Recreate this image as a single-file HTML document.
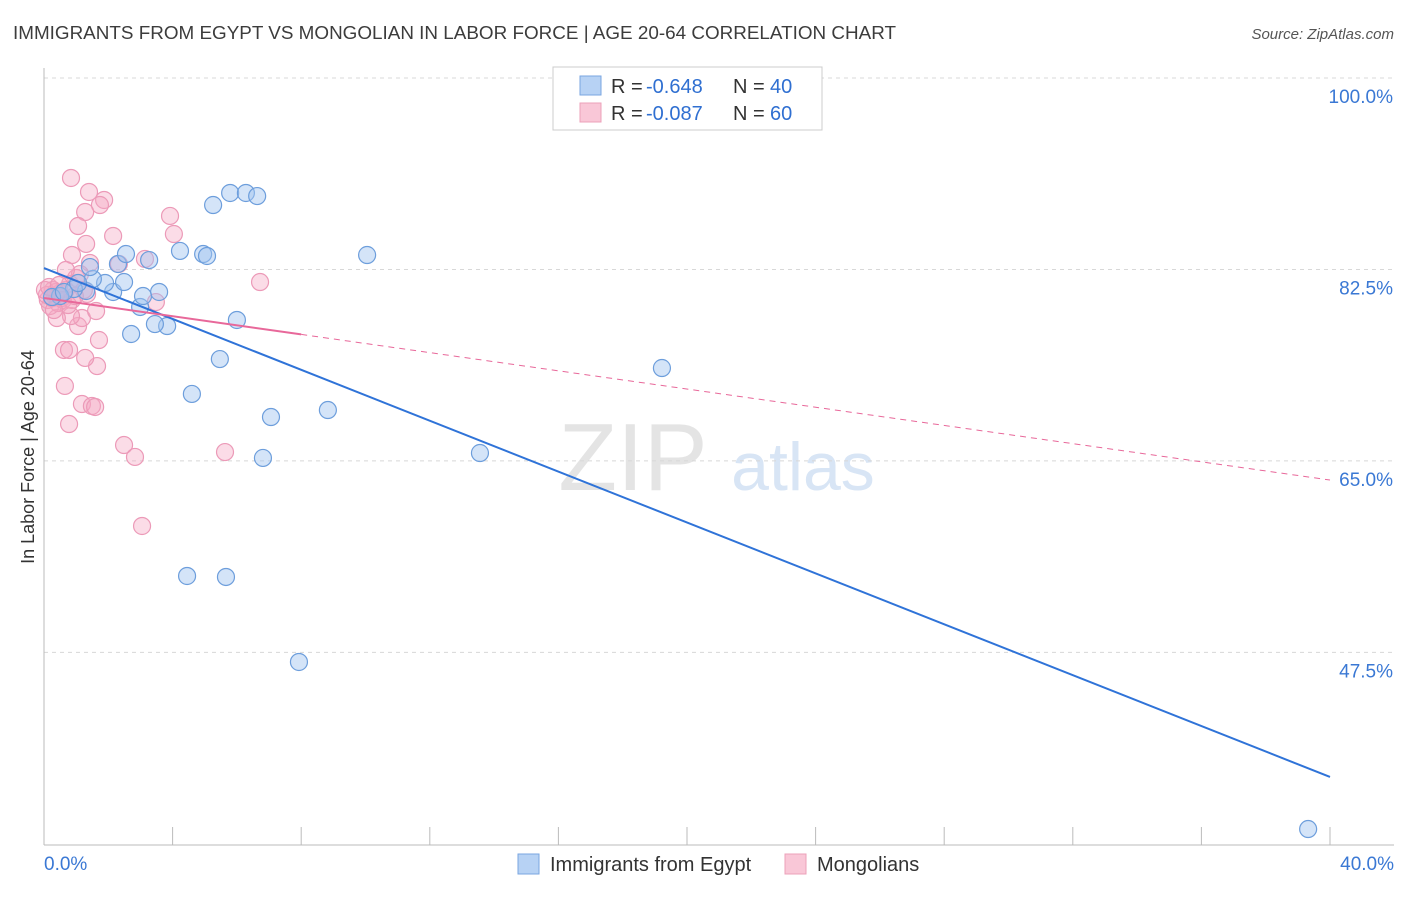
<!DOCTYPE html>
<html><head><meta charset="utf-8"><style>
body{margin:0;background:#fff;font-family:"Liberation Sans",sans-serif}
svg text{font-family:"Liberation Sans",sans-serif}
</style></head><body>
<svg id="chart" width="1406" height="892" viewBox="0 0 1406 892" xmlns="http://www.w3.org/2000/svg">
<text x="13" y="39" font-size="18" fill="#3c3c3c" textLength="883" lengthAdjust="spacingAndGlyphs">IMMIGRANTS FROM EGYPT VS MONGOLIAN IN LABOR FORCE | AGE 20-64 CORRELATION CHART</text>
<text x="1394" y="39" font-size="15" fill="#555" font-style="italic" text-anchor="end">Source: ZipAtlas.com</text>
<g>
<text x="633" y="490" font-size="96" fill="#e4e4e4" font-family="Liberation Serif" text-anchor="middle">ZIP</text>
<text x="803" y="490" font-size="68" fill="#d8e5f5" text-anchor="middle">atlas</text>
</g>
<g id="grid"></g>
<g id="axes"></g>
<g id="pts"></g>
<g id="trends"></g>
<text transform="translate(34,457) rotate(-90)" font-size="18" fill="#333" text-anchor="middle">In Labor Force | Age 20-64</text>
<g>
<rect x="553" y="67" width="269" height="63" fill="#fff" stroke="#ccc"/>
<rect x="580" y="76" width="21" height="19" fill="#b7d2f4" stroke="#7aa6e0"/>
<rect x="580" y="103" width="21" height="19" fill="#f9c7d7" stroke="#eca0ba"/>
<text x="611" y="93" font-size="20" fill="#333">R =</text>
<text x="646" y="93" font-size="20" fill="#2f6fd1">-0.648</text>
<text x="733" y="93" font-size="20" fill="#333">N =</text>
<text x="770" y="93" font-size="20" fill="#2f6fd1">40</text>
<text x="611" y="120" font-size="20" fill="#333">R =</text>
<text x="646" y="120" font-size="20" fill="#2f6fd1">-0.087</text>
<text x="733" y="120" font-size="20" fill="#333">N =</text>
<text x="770" y="120" font-size="20" fill="#2f6fd1">60</text>
</g>
<g>
<rect x="518" y="854" width="21" height="20" fill="#b7d2f4" stroke="#7aa6e0"/>
<text x="550" y="871" font-size="20" fill="#333">Immigrants from Egypt</text>
<rect x="785" y="854" width="21" height="20" fill="#f9c7d7" stroke="#eca0ba"/>
<text x="817" y="871" font-size="20" fill="#333">Mongolians</text>
</g>
</svg>
<script>
const yTicks=[100,82.5,65,47.5];
const yTickLabels=["100.0%","82.5%","65.0%","47.5%"];
const xTicks=[0,4,8,12,16,20,24,28,32,36,40];
const xEndLabels=["0.0%","40.0%"];
const egyptX=[39.32,7.93,4.45,5.66,6.81,13.56,19.22,8.83,7.06,4.60,5.47,2.71,3.83,3.45,6.00,2.99,3.58,3.08,2.15,1.31,1.90,2.49,1.52,2.30,2.55,3.27,4.23,4.95,5.07,5.26,5.79,6.28,6.63,10.05,0.93,0.50,0.25,0.62,1.43,1.06];
const egyptY=[31.35,46.62,54.48,54.39,65.27,65.72,73.49,69.65,69.01,71.12,74.31,76.60,77.33,77.51,77.88,79.07,80.44,80.07,80.44,80.53,81.26,81.35,81.63,83.00,83.91,83.36,84.19,83.91,83.73,88.39,89.49,89.49,89.21,83.82,80.71,80.07,79.98,80.44,82.72,81.26];
const mongX=[0.84,1.40,1.87,1.74,1.28,3.92,1.06,4.04,2.15,1.31,0.87,3.14,2.33,1.43,6.72,0.62,0.78,0.65,1.18,1.49,1.59,0.78,2.49,2.83,5.63,3.05,1.71,1.65,1.28,1.06,1.18,0.84,1.62,3.48,0.40,0.28,0.12,0.19,0.34,0.50,0.09,0.25,0.44,0.56,0.68,0.81,1.00,1.12,0.37,0.03,0.16,0.47,0.59,0.87,0.75,1.34,1.24,0.96,0.31,0.68];
const mongY=[90.86,89.58,88.85,88.39,87.75,87.39,86.47,85.74,85.56,84.83,83.82,83.46,83.00,83.09,81.35,75.14,75.14,71.85,70.20,70.02,69.93,68.37,66.45,65.36,65.81,59.05,76.05,73.67,74.41,77.33,78.06,78.24,78.70,79.52,78.06,80.62,79.71,79.16,80.07,80.35,80.16,79.89,79.43,79.89,80.62,81.17,81.72,82.08,80.44,80.62,80.90,81.08,79.71,79.71,79.25,80.26,80.62,80.07,78.79,82.45];
const egyptTrend=[82.63,36.11];
const mongTrend=[79.89,63.25];
const mongSolidEnd=8;

const NS="http://www.w3.org/2000/svg";
const sx=v=>44+v*(1286/40);
const sy=v=>78+(100-v)*10.94;
function mk(tag,attrs,parent){const e=document.createElementNS(NS,tag);for(const k in attrs)e.setAttribute(k,attrs[k]);parent.appendChild(e);return e;}
const grid=document.getElementById('grid'),axes=document.getElementById('axes'),pts=document.getElementById('pts'),tr=document.getElementById('trends');
yTicks.forEach((t,i)=>{
  const l=mk('line',{x1:44,x2:1394,y1:sy(t),y2:sy(t),stroke:'#d8d8d8','stroke-dasharray':'4,4'},grid);
  
  
  const tx=mk('text',{x:1393,y:sy(t)+25,'font-size':19,fill:'#3a78d4','text-anchor':'end'},axes);
  tx.textContent=yTickLabels[i];
  
  
});
const ya=mk('line',{x1:44,x2:44,y1:68,y2:845,stroke:'#bbb'},axes);


const xa=mk('line',{x1:44,x2:1394,y1:845,y2:845,stroke:'#bbb'},axes);


xTicks.forEach(t=>{
  const l=mk('line',{x1:sx(t),x2:sx(t),y1:827,y2:845,stroke:'#bbb'},axes);
  
  
});
[[0,'start',44],[40,'end',1394]].forEach((d,i)=>{
  const tx=mk('text',{x:d[2],y:870,'font-size':19,fill:'#3a78d4','text-anchor':d[1]},axes);
  tx.textContent=xEndLabels[i];
  
  
});
mongX.forEach((x,i)=>{
  const c=mk('circle',{cx:sx(x),cy:sy(mongY[i]),r:8.5,fill:'rgba(244,168,196,0.4)',stroke:'#ec9ab8','stroke-width':1.2},pts);
  
  
});
egyptX.forEach((x,i)=>{
  const c=mk('circle',{cx:sx(x),cy:sy(egyptY[i]),r:8.5,fill:'rgba(160,196,240,0.45)',stroke:'#6d9edc','stroke-width':1.2},pts);
  
  
});
const bl=mk('line',{x1:sx(0),y1:sy(egyptTrend[0]),x2:sx(40),y2:sy(egyptTrend[1]),stroke:'#2f73d8','stroke-width':2},tr);


const mAt=x=>mongTrend[0]+(mongTrend[1]-mongTrend[0])*x/40;
const pl=mk('line',{x1:sx(0),y1:sy(mAt(0)),x2:sx(mongSolidEnd),y2:sy(mAt(mongSolidEnd)),stroke:'#e8689a','stroke-width':2},tr);


const pd=mk('line',{x1:sx(mongSolidEnd),y1:sy(mAt(mongSolidEnd)),x2:sx(40),y2:sy(mAt(40)),stroke:'#e8689a','stroke-width':1,'stroke-dasharray':'6,5'},tr);


</script>
</body></html>
